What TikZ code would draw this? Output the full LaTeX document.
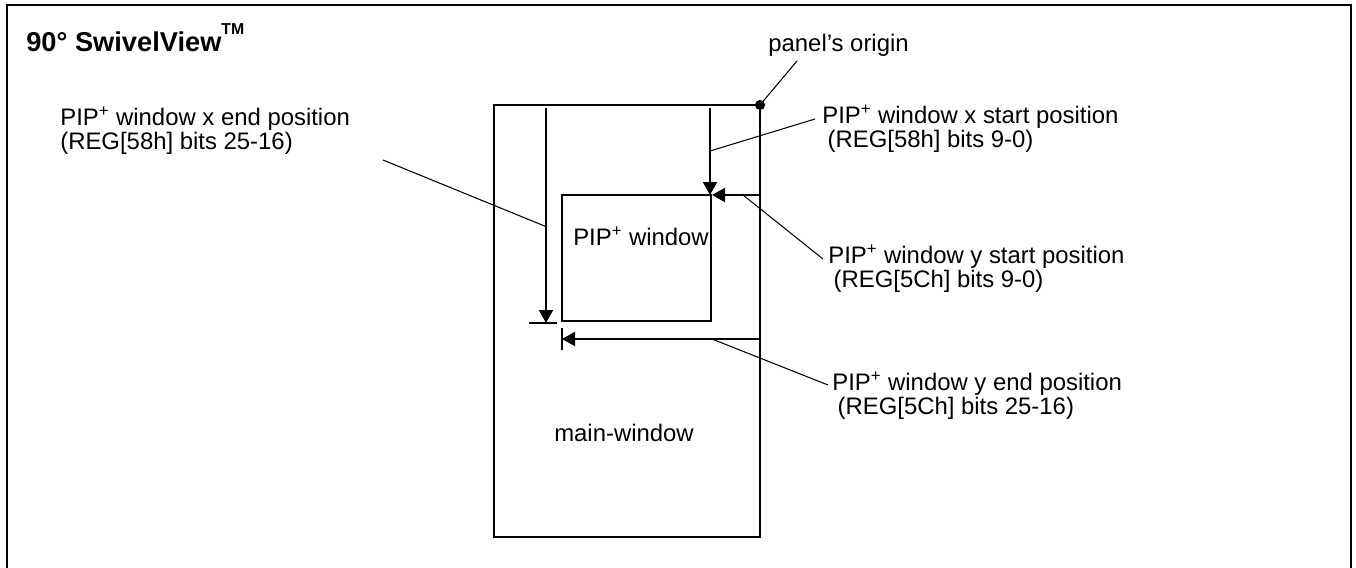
\documentclass[tikz,border=0pt]{standalone}
\usepackage{fontspec}
\setmainfont{Liberation Sans}
\usetikzlibrary{arrows.meta}
\newcommand{\lblfont}{\fontsize{13.6}{13.6}\selectfont\setlength{\lineskiplimit}{-8pt}}

\begin{document}
\begin{tikzpicture}[
  x=0.02cm, y=-0.02cm,
  >={Triangle[length=7.4pt,width=8pt]},
  frame/.style={line width=1.1pt},
  win/.style={line width=1.1pt},
  dim/.style={->, line width=1.1pt},
  tick/.style={line width=1.1pt},
  leader/.style={line width=.6pt},
  lbl/.style={font=\lblfont, align=left, anchor=west, inner sep=0pt},
  ttl/.style={font=\fontsize{15.5}{18}\selectfont\bfseries, anchor=west, inner sep=0pt}
]
\useasboundingbox (0,0) rectangle (1356,568);

% ---------- frame and title ----------
\draw[frame] (7,580) -- (7,5) -- (1351,5) -- (1351,580);
\node[ttl] (title) at (26,38)
  {90° SwivelView\raisebox{1.2ex}{\fontsize{9}{9}\selectfont TM}};

% ---------- windows ----------
\coordinate (mainNW) at (494,105);
\coordinate (mainSE) at (760,537);
\coordinate (pipNW) at (562,195);
\coordinate (pipSE) at (711,321);
\draw[win] (mainNW) rectangle (mainSE);
\draw[win] (pipNW) rectangle (pipSE);
\coordinate (origin) at (760,105);
\fill (origin) circle (2.9pt);

\node[lbl, anchor=center] (pipname) at (641,236) {PIP\textsuperscript{+} window};
\node[lbl, anchor=center] (mainname) at (624,433) {main-window};

% ---------- position arrows ----------
\coordinate (xsTop) at (710,108);
\coordinate (xsTip) at (710,195);
\coordinate (xeTop) at (546,108);
\coordinate (xeTip) at (546,323);
\coordinate (ysRight) at (760,195);
\coordinate (ysTip) at (712,195);
\coordinate (yeRight) at (760,339);
\coordinate (yeTip) at (562,339);
\draw[dim] (xsTop) -- (xsTip);
\draw[dim] (xeTop) -- (xeTip);
\draw[dim] (ysRight) -- (ysTip);
\draw[dim] (yeRight) -- (yeTip);
\draw[tick] (529,323) -- (557,323);
\draw[tick] (562,328) -- (562,350);

% ---------- labels ----------
\node[lbl] (lorigin) at (768,45) {panel's origin};
\node[lbl] (lxs) at (822,129) {PIP\textsuperscript{+} window x start position\\\hspace*{3pt}(REG[58h] bits 9-0)};
\node[lbl] (lys) at (828,269) {PIP\textsuperscript{+} window y start position\\\hspace*{3pt}(REG[5Ch] bits 9-0)};
\node[lbl] (lye) at (832,396) {PIP\textsuperscript{+} window y end position\\\hspace*{3pt}(REG[5Ch] bits 25-16)};
\node[lbl] (lxe) at (60,131) {PIP\textsuperscript{+} window x end position\\(REG[58h] bits 25-16)};

% ---------- leaders ----------
\coordinate (aorigin) at (797,61);
\coordinate (axs) at (815,119);
\coordinate (ays) at (823,259);
\coordinate (aye) at (828,385);
\coordinate (axe) at (383,160);
\draw[leader] (origin) -- (aorigin);
\draw[leader] (710,151) -- (axs);
\draw[leader] (743,195) -- (ays);
\draw[leader] (712,339) -- (aye);
\draw[leader] (547,227) -- (axe);

\end{tikzpicture}
\end{document}
